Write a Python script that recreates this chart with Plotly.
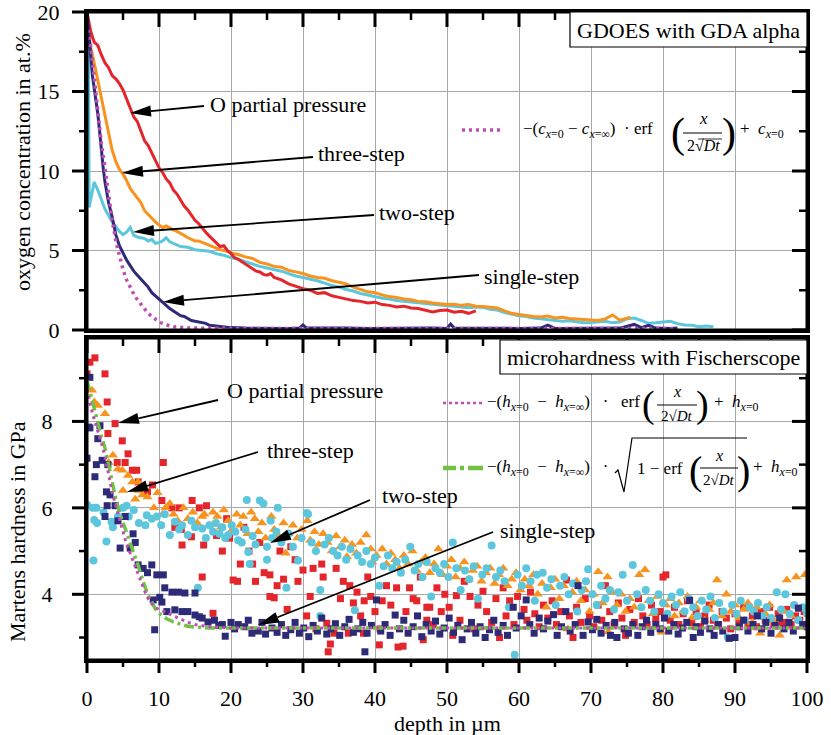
import math
import plotly.graph_objects as go

# ---------------------------------------------------------------------------
# GDOES oxygen depth profiles (depth in µm, O concentration in at.%)
# ---------------------------------------------------------------------------
o_partial_pressure_gdoes = [
    (0.0, 20.0), (0.5, 18.8), (1.0, 18.1), (1.5, 17.9), (2.0, 17.3), (2.5, 16.8), (3.0, 16.5),
    (3.5, 16.0), (4.0, 15.8), (4.5, 15.5), (5.0, 15.1), (5.5, 14.5), (6.0, 13.9), (6.5, 13.4),
    (7.0, 13.1), (7.5, 12.5), (8.0, 11.9), (8.5, 11.6), (9.0, 11.1), (9.5, 10.6), (10.0, 10.2),
    (10.5, 9.9), (11.0, 9.5), (11.5, 9.25), (12.0, 8.8), (12.5, 8.55), (13.0, 8.2), (13.5, 7.8),
    (14.0, 7.55), (14.5, 7.2), (15.0, 6.9), (15.5, 6.7), (16.0, 6.4), (16.5, 6.15), (17.0, 5.9),
    (17.5, 5.7), (18.0, 5.5), (18.5, 5.25), (19.0, 5.3), (19.5, 5.0), (20.0, 4.8), (20.5, 4.55),
    (21.0, 4.45), (21.5, 4.3), (22.0, 4.15), (22.5, 3.95), (23.0, 3.85), (23.5, 3.7), (24.0, 3.65),
    (24.5, 3.5), (25.0, 3.45), (25.5, 3.55), (26.0, 3.3), (27.0, 3.15), (28.0, 2.9), (29.0, 2.75),
    (30.0, 2.6), (31.0, 2.5), (32.0, 2.3), (33.0, 2.35), (34.0, 2.15), (35.0, 2.05), (36.0, 1.95),
    (37.0, 1.85), (38.0, 1.8), (39.0, 1.7), (40.0, 1.75), (41.0, 1.6), (42.0, 1.55), (43.0, 1.45),
    (44.0, 1.5), (45.0, 1.38), (46.0, 1.35), (47.0, 1.25), (48.0, 1.13), (49.0, 1.22), (50.0, 1.26),
    (51.0, 1.12), (52.0, 1.18), (53.0, 1.05), (54.0, 1.2),
]
three_step_gdoes = [
    (0.0, 19.5), (0.5, 17.8), (1.0, 16.8), (1.5, 15.7), (2.0, 14.5), (2.5, 13.3), (3.0, 12.3),
    (3.5, 11.3), (4.0, 10.6), (4.5, 10.1), (5.0, 9.8), (5.5, 9.4), (6.0, 8.9), (6.5, 8.6),
    (7.0, 8.3), (7.5, 8.0), (8.0, 7.5), (8.5, 7.25), (9.0, 7.0), (9.5, 6.8), (10.0, 6.6),
    (10.5, 6.45), (11.0, 6.55), (11.5, 6.4), (12.0, 6.3), (12.5, 6.2), (13.0, 6.1), (13.5, 5.95),
    (14.0, 5.8), (14.5, 5.7), (15.0, 5.6), (15.5, 5.6), (16.0, 5.5), (16.5, 5.4), (17.0, 5.3),
    (17.5, 5.25), (18.0, 5.1), (18.5, 5.05), (19.0, 5.0), (19.5, 4.95), (20.0, 4.85), (21.0, 4.75),
    (22.0, 4.6), (23.0, 4.5), (24.0, 4.25), (25.0, 4.15), (26.0, 4.0), (27.0, 3.95), (28.0, 3.75),
    (29.0, 3.65), (30.0, 3.55), (31.0, 3.4), (32.0, 3.3), (33.0, 3.25), (34.0, 3.1), (35.0, 3.0),
    (36.0, 2.9), (37.0, 2.7), (38.0, 2.55), (39.0, 2.4), (40.0, 2.35), (41.0, 2.2), (42.0, 2.1),
    (43.0, 2.05), (44.0, 1.95), (45.0, 1.9), (46.0, 1.8), (47.0, 1.78), (48.0, 1.7), (49.0, 1.65),
    (50.0, 1.6), (51.0, 1.62), (52.0, 1.55), (53.0, 1.6), (54.0, 1.5), (55.0, 1.48), (56.0, 1.42),
    (57.0, 1.38), (58.0, 1.2), (59.0, 1.05), (60.0, 0.98), (61.0, 0.9), (62.0, 0.85), (63.0, 0.82),
    (64.0, 0.88), (65.0, 0.76), (66.0, 0.8), (67.0, 0.72), (68.0, 0.7), (69.0, 0.68), (70.0, 0.66),
    (71.0, 0.6), (72.0, 0.7), (73.0, 0.95), (74.0, 0.62), (75.0, 0.75), (75.5, 0.8),
]
two_step_gdoes = [
    (0.2, 18.0), (0.3, 7.7), (0.6, 8.4), (0.9, 9.3), (1.0, 9.3), (1.5, 8.8), (2.0, 8.2),
    (2.5, 7.6), (3.0, 7.2), (3.5, 6.8), (4.0, 6.5), (4.5, 6.2), (5.0, 6.0), (5.5, 6.15),
    (6.0, 6.45), (6.5, 5.95), (7.0, 5.85), (7.5, 5.8), (8.0, 5.75), (8.5, 5.6), (9.0, 5.7),
    (9.5, 5.45), (10.0, 5.5), (10.5, 5.6), (11.0, 5.8), (11.5, 5.55), (12.0, 5.45), (13.0, 5.25),
    (14.0, 5.2), (15.0, 5.05), (16.0, 5.0), (17.0, 4.95), (18.0, 4.8), (19.0, 4.7), (20.0, 4.55),
    (21.0, 4.45), (22.0, 4.3), (23.0, 4.15), (24.0, 4.0), (25.0, 3.9), (26.0, 3.8), (27.0, 3.7),
    (28.0, 3.55), (29.0, 3.4), (30.0, 3.3), (31.0, 3.2), (32.0, 3.1), (33.0, 2.95), (34.0, 2.8),
    (35.0, 2.7), (36.0, 2.55), (37.0, 2.45), (38.0, 2.3), (39.0, 2.2), (40.0, 2.1), (41.0, 2.0),
    (42.0, 1.95), (43.0, 1.85), (44.0, 1.8), (45.0, 1.75), (46.0, 1.7), (47.0, 1.65), (48.0, 1.6),
    (49.0, 1.55), (50.0, 1.52), (51.0, 1.5), (52.0, 1.45), (53.0, 1.4), (54.0, 1.45), (55.0, 1.42),
    (56.0, 1.3), (57.0, 1.25), (58.0, 1.1), (59.0, 1.0), (60.0, 0.9), (61.0, 0.85), (62.0, 0.75),
    (63.0, 0.7), (64.0, 0.65), (65.0, 0.6), (66.0, 0.55), (67.0, 0.58), (68.0, 0.5), (69.0, 0.45),
    (70.0, 0.47), (71.0, 0.52), (72.0, 0.55), (73.0, 0.45), (74.0, 0.5), (75.0, 0.7), (76.0, 0.75),
    (77.0, 0.6), (78.0, 0.42), (79.0, 0.45), (80.0, 0.52), (81.0, 0.55), (82.0, 0.4), (83.0, 0.32),
    (84.0, 0.3), (85.0, 0.2), (86.0, 0.25), (87.0, 0.2),
]
single_step_gdoes = [
    (0.0, 20.0), (0.25, 18.5), (0.5, 17.0), (0.75, 16.0), (1.0, 15.2), (1.25, 14.5), (1.5, 13.6),
    (1.75, 12.5), (2.0, 11.2), (2.25, 10.2), (2.5, 9.3), (2.75, 8.6), (3.0, 8.0), (3.5, 7.1),
    (4.0, 6.0), (4.5, 5.3), (5.0, 4.8), (5.5, 4.4), (6.0, 4.05), (6.5, 3.7), (7.0, 3.45),
    (7.5, 3.2), (8.0, 2.95), (8.5, 2.7), (9.0, 2.35), (9.5, 2.15), (10.0, 1.95), (10.5, 1.75),
    (11.0, 1.5), (11.5, 1.35), (12.0, 1.2), (12.5, 1.05), (13.0, 0.9), (13.5, 0.85), (14.0, 0.7),
    (14.5, 0.6), (15.0, 0.55), (15.5, 0.5), (16.0, 0.45), (16.5, 0.42), (17.0, 0.3), (17.5, 0.28),
    (18.0, 0.22), (19.0, 0.18), (20.0, 0.15), (22.0, 0.12), (24.0, 0.1), (26.0, 0.12), (28.0, 0.1),
    (29.5, 0.12), (30.0, 0.32), (30.5, 0.12), (33.0, 0.1), (36.0, 0.12), (39.0, 0.1), (42.0, 0.12),
    (45.0, 0.1), (48.0, 0.12), (50.0, 0.1), (50.5, 0.38), (51.0, 0.12), (54.0, 0.1), (57.0, 0.12),
    (60.0, 0.1), (63.0, 0.12), (64.0, 0.3), (65.0, 0.1), (68.0, 0.12), (71.0, 0.1), (74.0, 0.12),
    (76.0, 0.35), (77.0, 0.15), (78.0, 0.3), (79.0, 0.12), (81.0, 0.1), (82.0, 0.12),
]
erf_fit_gdoes = [
    (0.0, 19.3), (0.5, 17.9), (1.0, 15.9), (1.5, 13.6), (2.0, 11.7), (2.5, 10.2), (3.0, 8.5),
    (3.5, 6.9), (4.0, 5.6), (4.5, 4.6), (5.0, 3.8), (5.5, 3.15), (6.0, 2.65), (6.5, 2.25),
    (7.0, 1.9), (7.5, 1.6), (8.0, 1.3), (8.5, 1.05), (9.0, 0.85), (9.5, 0.66), (10.0, 0.52),
    (10.5, 0.41), (11.0, 0.32), (11.5, 0.26), (12.0, 0.21), (13.0, 0.16), (14.0, 0.13),
    (15.0, 0.12), (20.0, 0.1), (81.5, 0.1),
]

# ---------------------------------------------------------------------------
# Martens hardness profiles (depth in µm, hardness in GPa)
# ---------------------------------------------------------------------------
o_partial_pressure_hm = [
    (0.0, 9.1), (0.4, 9.37), (1.1, 9.47), (2.5, 9.1), (2.8, 8.45), (2.9, 7.72), (3.9, 7.95),
    (4.2, 7.05), (4.9, 7.55), (5.3, 7.05), (5.7, 7.25), (6.3, 6.87), (6.9, 6.87), (7.1, 6.6),
    (8.4, 6.37), (9.1, 6.53), (10.4, 6.17), (10.6, 7.05), (11.8, 6.0), (12.2, 5.55), (12.8, 6.0),
    (13.1, 5.5), (13.2, 5.14), (14.5, 5.33), (14.6, 6.17), (15.6, 6.0), (16.0, 4.4), (16.2, 5.14),
    (16.6, 6.05), (17.5, 3.56), (18.0, 5.36), (18.8, 5.0), (19.4, 5.75), (19.8, 5.3), (20.3, 4.33),
    (20.9, 4.3), (21.3, 4.7), (21.8, 5.55), (22.5, 5.0), (23.0, 4.7), (23.4, 4.3), (24.0, 5.2),
    (24.6, 4.5), (25.4, 4.45), (25.4, 3.95), (26.0, 3.92), (26.4, 4.2), (26.8, 5.0), (27.3, 4.35),
    (27.8, 3.65), (28.3, 5.1), (28.9, 4.8), (29.3, 4.3), (30.0, 4.56), (30.5, 3.5), (31.0, 3.95),
    (31.4, 4.6), (31.8, 3.2), (32.6, 4.7), (32.8, 4.4), (33.3, 3.33), (33.5, 2.67), (33.8, 2.85),
    (34.3, 3.1), (34.6, 4.6), (35.2, 3.9), (35.6, 4.3), (36.3, 3.1), (36.5, 4.2), (37.0, 3.8),
    (37.5, 4.05), (38.0, 3.5), (38.4, 3.1), (38.5, 3.85), (39.0, 4.4), (39.4, 3.95), (40.0, 3.6),
    (40.6, 2.83), (40.7, 3.2), (41.0, 3.85), (41.6, 4.2), (42.2, 3.75), (43.0, 4.15), (43.2, 2.78),
    (43.9, 2.8), (44.3, 3.6), (44.8, 4.15), (45.3, 3.9), (45.8, 3.85), (46.3, 4.4), (46.7, 2.95),
    (47.2, 3.7), (47.2, 3.4), (47.6, 3.7), (48.1, 3.3), (48.6, 4.15), (49.2, 3.6), (49.7, 4.0),
    (50.3, 3.7), (50.8, 3.05), (51.3, 3.97), (51.8, 3.4), (52.4, 4.3), (53.2, 3.95), (53.8, 3.2),
    (54.3, 3.75), (55.0, 4.07), (55.5, 3.6), (56.2, 3.35), (56.8, 3.9), (57.3, 3.0), (57.8, 4.15),
    (58.2, 3.5), (58.7, 3.85), (59.3, 3.3), (59.8, 3.95), (60.7, 3.65), (61.1, 3.4), (61.6, 4.05),
    (62.2, 3.55), (62.8, 3.25), (63.4, 3.75), (64.0, 3.45), (64.6, 3.85), (65.2, 3.3), (65.8, 3.6),
    (66.6, 4.33), (67.0, 3.5), (67.5, 3.0), (68.0, 3.7), (68.6, 3.35), (69.2, 3.9), (69.8, 3.5),
    (70.4, 3.25), (71.0, 3.75), (71.5, 3.4), (72.0, 4.2), (72.6, 3.6), (73.2, 3.3), (73.8, 3.8),
    (74.3, 3.45), (74.8, 3.05), (75.4, 3.65), (76.0, 3.35), (76.6, 3.9), (77.2, 3.5), (77.8, 3.3),
    (78.4, 3.75), (79.0, 3.45), (79.6, 3.6), (80.0, 4.4), (80.4, 4.45), (81.0, 3.4), (81.6, 3.7),
    (82.2, 3.3), (82.8, 3.55), (83.4, 3.85), (84.0, 3.35), (84.6, 3.6), (85.2, 3.25), (85.8, 3.5),
    (86.4, 3.75), (87.0, 3.4), (87.6, 3.3), (88.2, 3.6), (88.8, 3.45), (89.4, 3.2), (90.0, 3.55),
    (90.6, 3.35), (91.2, 3.7), (91.8, 3.3), (92.4, 3.5), (93.0, 3.25), (93.6, 3.6), (94.2, 3.4),
    (94.8, 3.7), (95.4, 3.3), (96.0, 3.55), (96.6, 3.35), (97.2, 3.65), (97.8, 3.3), (98.4, 3.5),
    (99.0, 3.4), (99.6, 3.6),
]
three_step_hm = [
    (0.7, 8.72), (1.0, 8.45), (1.5, 8.37), (2.5, 8.18), (3.0, 7.05), (3.6, 7.22), (4.3, 6.9),
    (4.9, 6.87), (5.0, 6.4), (5.7, 6.75), (6.3, 6.6), (6.7, 6.2), (7.1, 6.6), (7.2, 6.4),
    (7.7, 6.3), (8.4, 6.25), (9.3, 6.0), (9.8, 6.35), (10.5, 5.85), (10.9, 6.0), (11.5, 6.1),
    (12.0, 5.85), (12.6, 5.7), (13.4, 6.0), (14.0, 5.75), (14.7, 5.9), (15.3, 5.65), (16.0, 5.8),
    (16.3, 5.85), (17.0, 5.6), (17.5, 5.9), (18.1, 5.8), (18.6, 5.55), (19.0, 5.95), (19.6, 5.7),
    (20.2, 5.5), (20.8, 5.85), (21.3, 5.6), (21.7, 5.8), (22.3, 5.4), (22.8, 5.9), (23.3, 5.75),
    (23.8, 5.45), (24.3, 5.65), (24.8, 5.3), (25.6, 5.8), (26.0, 5.5), (26.6, 5.35), (27.3, 5.65),
    (27.6, 4.95), (28.0, 5.4), (28.6, 5.6), (29.2, 5.3), (29.8, 5.5), (30.6, 5.7), (31.0, 5.25),
    (31.6, 5.45), (32.2, 5.15), (32.8, 5.4), (33.4, 5.2), (34.0, 5.0), (34.6, 5.35), (35.2, 5.1),
    (35.8, 5.25), (36.1, 4.87), (36.8, 5.15), (37.4, 4.95), (38.0, 5.2), (38.8, 5.37), (39.4, 5.05),
    (39.6, 4.75), (40.2, 4.9), (41.0, 5.05), (41.6, 4.7), (42.2, 4.95), (42.8, 4.8), (43.4, 4.6),
    (44.0, 4.9), (44.6, 4.7), (45.2, 5.0), (45.8, 4.55), (46.4, 4.75), (47.0, 4.85), (47.6, 4.5),
    (48.2, 4.7), (48.8, 5.05), (49.4, 4.45), (50.0, 4.65), (50.6, 4.8), (51.2, 4.4), (51.8, 4.6),
    (52.4, 4.75), (53.0, 4.35), (53.6, 4.55), (54.2, 4.65), (54.8, 4.3), (55.4, 4.5), (56.0, 4.6),
    (56.6, 4.25), (57.2, 4.45), (57.8, 4.6), (58.4, 4.2), (59.0, 4.35), (59.6, 4.5), (60.2, 4.1),
    (60.8, 4.35), (61.4, 4.2), (62.0, 4.45), (62.6, 4.0), (63.2, 4.25), (63.8, 3.7), (64.4, 4.15),
    (65.0, 4.35), (65.6, 3.9), (66.2, 4.2), (66.8, 3.2), (67.4, 4.05), (68.0, 4.3), (68.6, 3.85),
    (69.2, 4.1), (69.8, 3.6), (70.4, 4.0), (71.0, 4.52), (71.6, 3.8), (72.3, 4.4), (72.4, 3.13),
    (73.0, 4.05), (73.6, 3.75), (74.2, 4.0), (74.8, 3.6), (75.4, 3.9), (76.0, 3.7), (76.7, 4.45),
    (77.5, 4.57), (78.0, 3.85), (78.6, 3.55), (79.2, 3.95), (79.8, 3.12), (80.4, 3.75), (81.0, 3.9),
    (81.6, 3.5), (82.2, 3.8), (82.8, 3.6), (83.4, 3.95), (84.0, 3.45), (84.6, 3.7), (85.2, 3.85),
    (85.8, 3.4), (86.4, 3.65), (87.0, 3.8), (87.5, 4.33), (88.2, 3.5), (88.8, 4.0), (89.4, 3.6),
    (90.0, 3.75), (90.6, 3.45), (91.2, 3.65), (91.8, 3.8), (92.4, 3.35), (93.0, 3.7), (93.5, 3.1),
    (94.2, 3.55), (94.8, 3.75), (95.4, 3.4), (96.2, 3.05), (96.8, 3.6), (97.2, 4.33), (97.8, 3.5),
    (98.5, 4.4), (99.1, 3.65), (99.7, 4.45),
]
two_step_hm = [
    (0.0, 6.07), (0.8, 6.0), (0.9, 4.78), (1.0, 5.72), (1.3, 6.0), (1.4, 5.65), (2.3, 5.9),
    (2.7, 5.22), (3.4, 5.68), (3.6, 5.55), (4.3, 5.8), (5.0, 6.0), (5.5, 6.05), (5.8, 5.8),
    (6.5, 5.95), (7.2, 5.65), (8.1, 5.6), (8.3, 5.83), (9.0, 5.75), (9.7, 5.8), (10.3, 5.6),
    (10.8, 5.85), (11.5, 5.37), (12.2, 5.68), (12.8, 5.5), (13.2, 5.6), (14.0, 5.37), (14.5, 5.7),
    (15.0, 5.55), (15.4, 4.15), (16.0, 5.52), (16.5, 5.3), (17.0, 5.6), (17.5, 5.45), (17.9, 5.65),
    (18.4, 5.4), (18.8, 5.55), (19.2, 5.3), (19.6, 5.37), (20.1, 5.6), (20.6, 5.45), (21.0, 5.25),
    (21.5, 5.2), (22.0, 5.5), (22.2, 6.18), (22.4, 4.98), (22.6, 4.7), (23.0, 5.35), (23.4, 5.15),
    (24.0, 6.17), (24.5, 6.1), (25.0, 5.1), (25.0, 4.8), (25.5, 5.7), (25.7, 5.3), (26.3, 5.45),
    (26.5, 6.0), (27.0, 5.2), (27.7, 4.15), (28.0, 5.4), (28.6, 5.1), (29.3, 4.78), (29.8, 5.3),
    (30.5, 5.88), (30.7, 5.85), (31.2, 5.2), (31.8, 5.0), (32.4, 4.1), (32.4, 3.5), (33.0, 5.15),
    (33.6, 5.3), (34.2, 5.0), (34.8, 4.9), (35.4, 5.1), (36.0, 4.8), (36.6, 5.05), (37.2, 3.63),
    (37.6, 4.9), (38.2, 4.75), (38.8, 5.0), (39.4, 4.7), (40.0, 4.85), (40.6, 4.2), (41.2, 4.65),
    (41.8, 4.9), (42.4, 4.6), (43.0, 4.75), (43.6, 4.5), (44.2, 4.8), (44.9, 5.1), (45.5, 4.55),
    (46.0, 4.7), (46.6, 4.4), (47.2, 4.75), (47.8, 3.95), (48.4, 4.6), (49.0, 4.5), (49.6, 4.7),
    (50.2, 4.4), (50.8, 5.2), (51.3, 4.6), (51.9, 4.1), (52.5, 4.55), (53.1, 4.35), (53.7, 4.65),
    (54.3, 3.9), (54.9, 4.45), (55.5, 4.6), (56.2, 5.13), (56.8, 4.4), (57.4, 4.55), (58.0, 4.3),
    (58.6, 3.7), (59.4, 2.6), (59.8, 4.45), (60.4, 4.2), (61.0, 4.6), (61.6, 4.3), (62.2, 3.85),
    (62.5, 4.45), (63.3, 4.5), (63.9, 4.15), (64.5, 4.35), (65.1, 3.75), (65.7, 4.2), (66.3, 4.4),
    (66.9, 4.0), (67.5, 4.25), (68.1, 3.6), (68.7, 4.1), (69.3, 4.3), (69.6, 4.58), (70.2, 4.0),
    (70.8, 3.75), (71.4, 4.2), (72.0, 3.9), (72.6, 4.1), (73.2, 3.65), (73.8, 4.05), (74.4, 4.45),
    (75.0, 3.85), (75.8, 4.68), (76.4, 4.0), (77.0, 3.7), (77.6, 4.1), (78.2, 3.85), (78.8, 3.6),
    (79.4, 4.0), (80.0, 3.8), (80.6, 3.55), (81.2, 3.95), (81.8, 3.75), (82.4, 4.05), (83.0, 3.6),
    (83.6, 3.9), (84.2, 3.7), (84.8, 3.5), (85.4, 3.85), (86.0, 3.65), (86.6, 3.95), (87.2, 3.45),
    (87.8, 3.8), (88.4, 3.6), (89.0, 3.0), (89.6, 3.75), (90.2, 3.55), (90.8, 3.85), (91.4, 3.4),
    (92.0, 3.7), (92.6, 3.6), (93.2, 3.8), (93.8, 3.5), (94.4, 3.7), (95.0, 3.45), (95.8, 4.05),
    (96.4, 3.65), (97.0, 4.0), (97.6, 3.55), (98.2, 3.75), (98.8, 3.4), (99.4, 3.7), (100.0, 3.55),
]
single_step_hm = [
    (0.0, 7.15), (0.2, 7.87), (0.4, 9.02), (0.4, 7.85), (1.1, 6.72), (1.3, 7.0), (1.5, 7.6),
    (1.8, 7.9), (2.1, 7.1), (2.5, 5.8), (2.7, 6.37), (2.8, 6.05), (2.9, 7.0), (3.2, 6.3),
    (3.9, 6.05), (4.3, 5.7), (4.6, 5.07), (5.3, 5.8), (6.0, 5.07), (6.4, 5.4), (6.7, 5.2),
    (7.1, 4.68), (7.8, 4.6), (8.4, 4.5), (9.0, 4.68), (9.2, 3.87), (9.4, 3.18), (9.7, 4.45),
    (10.1, 3.93), (10.4, 3.82), (10.6, 4.45), (10.8, 4.15), (11.1, 3.6), (11.8, 4.05), (12.2, 3.64),
    (12.7, 4.05), (13.2, 3.6), (13.6, 4.03), (14.0, 3.6), (15.0, 4.03), (15.0, 3.52), (15.6, 3.48),
    (16.0, 3.45), (16.8, 3.36), (17.7, 3.4), (18.3, 3.28), (18.8, 3.3), (19.2, 3.03), (20.0, 3.35),
    (20.5, 3.2), (21.0, 3.3), (21.9, 3.25), (22.4, 3.4), (22.9, 3.1), (23.8, 3.15), (24.3, 3.35),
    (24.8, 3.08), (25.7, 3.22), (26.4, 3.12), (27.0, 3.3), (27.6, 3.05), (28.3, 3.18), (28.9, 3.35),
    (29.5, 3.1), (30.1, 3.22), (30.8, 3.02), (31.4, 3.28), (32.0, 3.15), (32.6, 3.45), (33.3, 3.08),
    (33.9, 3.2), (34.5, 3.32), (35.1, 3.05), (35.8, 3.25), (36.4, 3.42), (37.0, 3.12), (37.6, 3.2),
    (38.3, 3.35), (38.6, 2.67), (38.9, 3.1), (39.5, 3.28), (40.2, 3.87), (40.8, 3.15), (41.4, 3.3),
    (42.1, 3.05), (42.8, 3.52), (43.4, 3.2), (44.0, 3.4), (44.6, 3.1), (45.3, 3.25), (45.9, 3.5),
    (46.5, 3.02), (47.1, 3.3), (47.8, 3.15), (48.4, 3.38), (49.0, 3.08), (49.6, 3.22), (50.3, 3.45),
    (50.9, 3.12), (51.5, 3.28), (52.1, 2.95), (52.8, 3.2), (53.4, 3.35), (54.0, 3.1), (54.6, 3.25),
    (55.3, 3.0), (55.9, 3.18), (56.5, 3.4), (57.1, 3.12), (57.8, 3.28), (58.4, 3.05), (59.2, 3.7),
    (59.6, 3.22), (60.3, 3.5), (61.0, 3.87), (61.5, 3.3), (62.1, 3.1), (62.8, 3.45), (63.4, 3.2),
    (64.0, 3.38), (64.8, 3.53), (65.3, 3.05), (65.9, 3.25), (66.5, 3.6), (67.1, 3.15), (67.8, 3.3),
    (68.2, 4.2), (68.9, 3.05), (69.6, 3.36), (70.2, 3.18), (70.8, 3.42), (71.4, 3.1), (72.1, 3.28),
    (72.7, 3.05), (73.3, 3.35), (73.6, 3.0), (74.6, 3.2), (75.2, 3.1), (75.8, 3.3), (76.5, 3.05),
    (77.1, 3.25), (77.7, 3.4), (78.3, 3.12), (79.0, 3.3), (79.6, 3.2), (80.2, 3.45), (80.8, 3.15),
    (81.5, 3.3), (82.1, 3.08), (82.7, 3.22), (83.3, 3.35), (83.7, 3.86), (84.2, 3.0), (84.6, 3.25),
    (85.2, 3.12), (85.8, 3.38), (86.5, 3.2), (87.1, 3.05), (87.7, 3.3), (88.3, 3.15), (89.2, 2.98),
    (90.0, 3.0), (90.6, 3.25), (91.2, 3.4), (91.8, 3.15), (92.5, 3.3), (93.1, 3.5), (93.7, 3.2),
    (94.3, 3.35), (95.0, 3.1), (95.6, 3.28), (96.2, 3.45), (96.8, 3.2), (97.5, 3.35), (98.1, 3.15),
    (98.8, 3.68), (99.4, 3.3), (100.0, 3.25),
]
erf_fit_hm = [
    (0.0, 8.75), (0.5, 8.35), (1.0, 8.05), (1.5, 7.8), (2.0, 7.5), (2.5, 7.2), (3.0, 6.75),
    (3.5, 6.35), (4.0, 6.05), (4.5, 5.75), (5.0, 5.45), (5.5, 5.15), (6.0, 4.95), (6.5, 4.72),
    (7.0, 4.5), (7.5, 4.28), (8.0, 4.08), (8.5, 3.9), (9.0, 3.78), (9.5, 3.7), (10.0, 3.65),
    (11.0, 3.58), (12.0, 3.5), (13.0, 3.42), (14.0, 3.35), (15.0, 3.3), (16.0, 3.27), (18.0, 3.24),
    (20.0, 3.22), (100.0, 3.22),
]
sqrt_erf_fit_hm = [
    (0.0, 8.95), (0.5, 8.6), (1.0, 8.25), (1.5, 7.98), (2.0, 7.65), (2.5, 7.38), (3.0, 7.0),
    (3.5, 6.6), (4.0, 6.2), (4.5, 5.9), (5.0, 5.65), (5.5, 5.45), (6.0, 5.2), (6.5, 4.95),
    (7.0, 4.72), (7.5, 4.45), (8.0, 4.2), (8.5, 3.98), (9.0, 3.8), (9.5, 3.66), (10.0, 3.56),
    (10.5, 3.5), (11.0, 3.44), (12.0, 3.36), (13.0, 3.3), (14.0, 3.26), (15.0, 3.24), (17.0, 3.22),
    (100.0, 3.22),
]

# Axis ranges and tick positions
depth_range = [0, 100]
depth_ticks = [0, 10, 20, 30, 40, 50, 60, 70, 80, 90, 100]
depth_minor = [5, 15, 25, 35, 45, 55, 65, 75, 85, 95]
oxygen_range = [0, 20]
oxygen_ticks = [0, 5, 10, 15, 20]
oxygen_minor = [2.5, 7.5, 12.5, 17.5]
hardness_range = [2.48, 9.93]
hardness_ticks = [4, 6, 8]
hardness_minor = [3, 5, 7, 9]

# ---------------------------------------------------------------------------
# Styling / page geometry (pixels)
# ---------------------------------------------------------------------------
RED = "#e4262c"
ORANGE = "#f7931e"
CYAN = "#5cc7dc"
NAVY = "#2d2a78"
PINK = "#c04db5"
GREEN = "#72c044"
GRID = "#a8a8a8"
SERIF = "Liberation Serif"

W, H = 831, 735
LEFT, RIGHT, TOP, BOTTOM = 87, 807, 12, 660       # plot area
UPPER_BOTTOM, LOWER_TOP = 330, 338                  # panel edges


def pxx(x):
    """Pixel column -> figure fraction."""
    return x / W


def pxy(y):
    """Pixel row -> figure fraction."""
    return 1 - y / H


def unzip(pairs):
    return [p[0] for p in pairs], [p[1] for p in pairs]


fig = go.Figure()

# upper panel: GDOES profiles
for pairs, color in [(two_step_gdoes, CYAN), (three_step_gdoes, ORANGE),
                     (o_partial_pressure_gdoes, RED), (single_step_gdoes, NAVY)]:
    x, y = unzip(pairs)
    fig.add_trace(go.Scatter(x=x, y=y, mode="lines", xaxis="x", yaxis="y",
                             line=dict(color=color, width=3), hoverinfo="skip"))
x, y = unzip(erf_fit_gdoes)
fig.add_trace(go.Scatter(x=x, y=y, mode="lines", xaxis="x", yaxis="y",
                         line=dict(color=PINK, width=3.5, dash="3px,4px"), hoverinfo="skip"))

# lower panel: hardness measurements
for pairs, color, symbol, size in [(o_partial_pressure_hm, RED, "square", 7),
                                   (three_step_hm, ORANGE, "triangle-up", 9),
                                   (two_step_hm, CYAN, "circle", 8),
                                   (single_step_hm, NAVY, "square", 7)]:
    x, y = unzip(pairs)
    fig.add_trace(go.Scatter(x=x, y=y, mode="markers", xaxis="x2", yaxis="y2",
                             marker=dict(color=color, symbol=symbol, size=size, line=dict(width=0)),
                             hoverinfo="skip"))
x, y = unzip(sqrt_erf_fit_hm)
fig.add_trace(go.Scatter(x=x, y=y, mode="lines", xaxis="x2", yaxis="y2",
                         line=dict(color=GREEN, width=3.5, dash="10px,4px,3px,4px"), hoverinfo="skip"))
x, y = unzip(erf_fit_hm)
fig.add_trace(go.Scatter(x=x, y=y, mode="lines", xaxis="x2", yaxis="y2",
                         line=dict(color=PINK, width=3, dash="3px,4px"), hoverinfo="skip"))


# ---------------------------------------------------------------------------
# Panel frames and tick marks: drawn on a page-sized overlay plot (pixel units)
# so the outward ticks in the margins are not clipped.
# ---------------------------------------------------------------------------
def frame_paths(top_px, bottom_px, yrange, ymajor, yminor, bottom_ticks):
    def xpix(v):
        return LEFT + (v - depth_range[0]) / (depth_range[1] - depth_range[0]) * (RIGHT - LEFT)

    def ypix(v):
        return bottom_px - (v - yrange[0]) / (yrange[1] - yrange[0]) * (bottom_px - top_px)

    major_x, major_y, minor_x, minor_y = [], [], [], []

    def add(xs, ys, x0, y0, x1, y1):
        xs += [x0, x1, None]
        ys += [y0, y1, None]

    for v in depth_ticks:
        add(major_x, major_y, xpix(v), top_px, xpix(v), top_px + 15)
        if bottom_ticks:
            add(major_x, major_y, xpix(v), bottom_px, xpix(v), bottom_px + 13)
    for v in depth_minor:
        add(minor_x, minor_y, xpix(v), top_px, xpix(v), top_px + 8)
        if bottom_ticks:
            add(minor_x, minor_y, xpix(v), bottom_px, xpix(v), bottom_px + 7)
    for v in ymajor:
        add(major_x, major_y, LEFT - 15, ypix(v), LEFT, ypix(v))
        add(major_x, major_y, RIGHT - 15, ypix(v), RIGHT, ypix(v))
    for v in yminor:
        add(minor_x, minor_y, LEFT - 8, ypix(v), LEFT, ypix(v))
        add(minor_x, minor_y, RIGHT - 8, ypix(v), RIGHT, ypix(v))
    box_x = [LEFT, RIGHT, RIGHT, LEFT, LEFT, None]
    box_y = [top_px, top_px, bottom_px, bottom_px, top_px, None]
    return box_x + major_x, box_y + major_y, minor_x, minor_y


for args in [(TOP, UPPER_BOTTOM, oxygen_range, oxygen_ticks, oxygen_minor, False),
             (LOWER_TOP, BOTTOM, hardness_range, hardness_ticks, hardness_minor, True)]:
    bx, by, mx, my = frame_paths(*args)
    fig.add_trace(go.Scatter(x=bx, y=by, mode="lines", xaxis="x5", yaxis="y5",
                             line=dict(color="black", width=3), hoverinfo="skip",
                             connectgaps=False))
    fig.add_trace(go.Scatter(x=mx, y=my, mode="lines", xaxis="x5", yaxis="y5",
                             line=dict(color="black", width=2.5), hoverinfo="skip",
                             connectgaps=False))

# ---------------------------------------------------------------------------
# Axes: boxed panels (axis line mirrored on all four sides)
# ---------------------------------------------------------------------------
tickfont = dict(family=SERIF, size=22, color="black")
x_dom = [pxx(LEFT), pxx(RIGHT)]
upper_dom = [pxy(UPPER_BOTTOM), pxy(TOP)]
lower_dom = [pxy(BOTTOM), pxy(LOWER_TOP)]
common = dict(showline=True, linecolor="black", linewidth=3, mirror=True,
              zeroline=False, showgrid=True, gridcolor=GRID, gridwidth=1.2,
              ticklabeloverflow="allow", automargin=False, fixedrange=True)

fig.update_layout(
    template="none",
    xaxis=dict(domain=x_dom, anchor="y", range=depth_range, tickvals=depth_ticks,
               ticks="", showticklabels=False, **common),
    yaxis=dict(domain=upper_dom, anchor="x", range=oxygen_range, tickvals=oxygen_ticks,
               ticks="", tickfont=tickfont, ticklabelstandoff=20, **common),
    xaxis2=dict(domain=x_dom, anchor="y2", range=depth_range, tickvals=depth_ticks,
                ticks="", tickfont=tickfont, ticklabelstandoff=17, **common),
    yaxis2=dict(domain=lower_dom, anchor="x2", range=hardness_range, tickvals=hardness_ticks,
                ticks="", tickfont=tickfont, ticklabelstandoff=27, **common),
    xaxis5=dict(domain=[0, 1], anchor="y5", range=[0, W], visible=False, fixedrange=True),
    yaxis5=dict(domain=[0, 1], anchor="x5", range=[H, 0], visible=False, fixedrange=True),
)

annotations = []
shapes = []


def seg(x0, y0, x1, y1, color="black", width=1.2, dash="solid"):
    shapes.append(dict(type="line", xref="paper", yref="paper", layer="above",
                       x0=pxx(x0), y0=pxy(y0), x1=pxx(x1), y1=pxy(y1),
                       line=dict(color=color, width=width, dash=dash)))


def text(x, y, s, size=22, xanchor="left", angle=0, family=SERIF):
    annotations.append(dict(x=pxx(x), y=pxy(y), xref="paper", yref="paper", text=s,
                            showarrow=False, xanchor=xanchor, yanchor="middle", textangle=angle,
                            font=dict(family=family, size=size, color="black")))


def poly(points, fill=None, width=1.2):
    d = "M " + " L ".join(f"{pxx(a):.5f},{pxy(b):.5f}" for a, b in points)
    if fill:
        d += " Z"
    shapes.append(dict(type="path", xref="paper", yref="paper", path=d,
                       fillcolor=fill if fill else "rgba(0,0,0,0)",
                       line=dict(color="black", width=0 if fill else width)))


def arrow(sx, sy, tx, ty, head=21, half=5.5):
    dx, dy = tx - sx, ty - sy
    d = math.hypot(dx, dy)
    ux, uy = dx / d, dy / d
    bx, by = tx - ux * head, ty - uy * head
    nx, ny = -uy, ux
    seg(sx, sy, bx, by, width=1.8)
    poly([(tx, ty), (bx + nx * half, by + ny * half), (bx - nx * half, by - ny * half)], fill="black")


# axis titles
text(23, 162, "oxygen concentration in at.%", angle=-90, xanchor="center")
text(17, 532, "Martens hardness in GPa", angle=-90, xanchor="center")
text(447, 723, "depth in µm", xanchor="center")

# series labels with arrows (upper panel)
text(208, 105, "O partial pressure")
arrow(204, 106, 130, 113)
text(316, 153, "three-step")
arrow(313, 157, 122, 173)
text(377, 212, "two-step")
arrow(374, 215, 133, 232)
text(482, 277, "single-step")
arrow(479, 275, 163, 302)

# series labels with arrows (lower panel)
text(225, 390, "O partial pressure")
arrow(218, 400, 118, 423)
text(265, 450, "three-step")
arrow(258, 452, 127, 492)
text(380, 495, "two-step")
arrow(370, 500, 270, 543)
text(498, 530, "single-step")
arrow(493, 532, 258, 625)

# panel title boxes
shapes.append(dict(type="rect", xref="paper", yref="paper", x0=pxx(570), x1=pxx(807),
                   y0=pxy(47), y1=pxy(12), fillcolor="white", line=dict(color="black", width=1.2)))
text(688, 30, "GDOES with GDA alpha", xanchor="center")
shapes.append(dict(type="rect", xref="paper", yref="paper", x0=pxx(500), x1=pxx(807),
                   y0=pxy(374), y1=pxy(340), fillcolor="white", line=dict(color="black", width=1.2)))
text(653, 357, "microhardness with Fischerscope", xanchor="center")

NB = "\u00a0"
sub0 = "<sub><i>x</i>=0</sub>"
subinf = "<sub><i>x</i>=∞</sub>"
minus = f"{NB}{NB}−{NB}{NB}"

# upper fit formula
seg(462, 130, 502, 130, color=PINK, width=3.5, dash="3px,4px")
text(521, 130, f"−(<i>c</i>{sub0}{NB}−{NB}<i>c</i>{subinf}){NB}{NB}·{NB}erf", size=17)
text(669, 133, "(", size=42)
text(703, 118, "<i>x</i>", size=17, xanchor="center")
seg(683, 133, 722, 133, width=1)
text(703, 146, "2√<i>Dt</i>", size=16, xanchor="center")
seg(698, 139, 722, 139, width=0.8)
text(729, 133, ")", size=42, xanchor="center")
text(738, 130, f"+{NB}{NB}<i>c</i>{sub0}", size=17)

# lower fit formula (erf)
seg(443, 403, 483, 403, color=PINK, width=2.5, dash="3px,3px")
text(485, 403, f"−(<i>h</i>{sub0}{minus}<i>h</i>{subinf}){NB}{NB}{NB}·{NB}{NB}{NB}erf", size=17)
text(648, 405, "(", size=38, xanchor="center")
text(677, 391, "<i>x</i>", size=16, xanchor="center")
seg(657, 405, 697, 405, width=1)
text(677, 416, "2√<i>Dt</i>", size=15, xanchor="center")
text(702, 405, ")", size=38, xanchor="center")
text(712, 403, f"+{NB}{NB}<i>h</i>{sub0}", size=17)

# lower fit formula (sqrt of 1 - erf)
seg(443, 468, 456, 468, color=GREEN, width=4.5)
seg(460, 468, 464, 468, color=GREEN, width=4.5)
seg(468, 468, 483, 468, color=GREEN, width=4.5)
text(485, 468, f"−(<i>h</i>{sub0}{minus}<i>h</i>{subinf}){NB}{NB}{NB}·", size=17)
poly([(615, 473), (618, 470), (624, 492), (632, 438), (747, 438)], width=1.2)
text(635, 468, f"1{NB}−{NB}erf", size=17)
text(695, 470, "(", size=40, xanchor="center")
text(719, 455, "<i>x</i>", size=16, xanchor="center")
seg(700, 468, 738, 468, width=1)
text(719, 480, "2√<i>Dt</i>", size=15, xanchor="center")
text(743, 470, ")", size=40, xanchor="center")
text(751, 468, f"+{NB}{NB}<i>h</i>{sub0}", size=17)

fig.update_layout(
    width=W, height=H,
    margin=dict(l=0, r=0, t=0, b=0, pad=0, autoexpand=False),
    paper_bgcolor="white", plot_bgcolor="rgba(0,0,0,0)",
    showlegend=False,
    font=dict(family=SERIF, size=22, color="black"),
    annotations=annotations,
    shapes=shapes,
)

fig.write_html("out.html")
